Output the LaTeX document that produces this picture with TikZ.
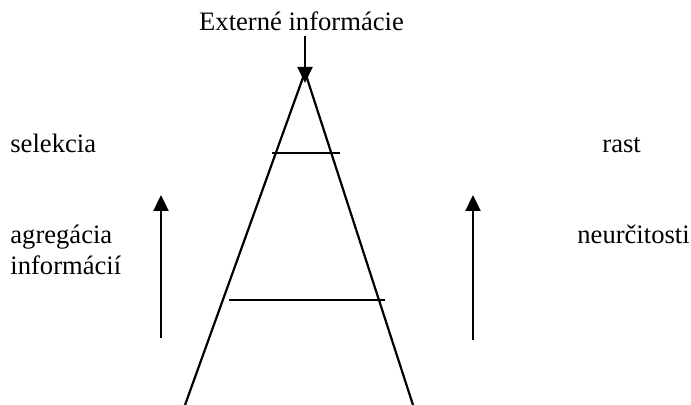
\documentclass[tikz,border=0pt]{standalone}
\usepackage{fontspec}
\setmainfont{Liberation Serif}
\usetikzlibrary{arrows.meta, positioning}

\begin{document}
\begin{tikzpicture}[x=0.5pt, y=-0.5pt,
        lbl/.style={font=\fontsize{13.3}{15.5}\selectfont, inner sep=0pt, align=left},
        edge/.style={line width=1.1pt},
        flow/.style={line width=1.1pt, -{Triangle[length=8pt, width=7.5pt]}}
      ]
        \useasboundingbox (0,0) rectangle (691,405);
        % triangle
        \coordinate (apex) at (305,72);
        \coordinate (bl) at (185,405);
        \coordinate (br) at (413,405);
        \draw[edge] (bl) -- (apex) -- (br);
        % cross lines
        \coordinate (c1l) at (272,153);
        \coordinate (c1r) at (340,153);
        \coordinate (c2l) at (229,300);
        \coordinate (c2r) at (385,300);
        \draw[edge] (c1l) -- (c1r);
        \draw[edge] (c2l) -- (c2r);
        % input from top
        \node[lbl, anchor=base] (ext) at (301.5,31) {Externé informácie};
        \coordinate (src) at (305,36);
        \coordinate (tip) at (305,83);
        \draw[flow] (src) -- (tip);
        % side arrows
        \coordinate (la0) at (161,338);
        \coordinate (la1) at (161,195);
        \coordinate (ra0) at (473,340);
        \coordinate (ra1) at (473,195);
        \draw[flow] (la0) -- (la1);
        \draw[flow] (ra0) -- (ra1);
        % labels
        \node[lbl, anchor=base west] (sel) at (10,153) {selekcia};
        \node[lbl, anchor=base west] (agr) at (10,275) {agregácia\\informácií};
        \node[lbl, anchor=base west] (rast) at (602,153) {rast};
        \node[lbl, anchor=base west] (neu) at (577,244) {neurčitosti};
      \end{tikzpicture}
\end{document}
